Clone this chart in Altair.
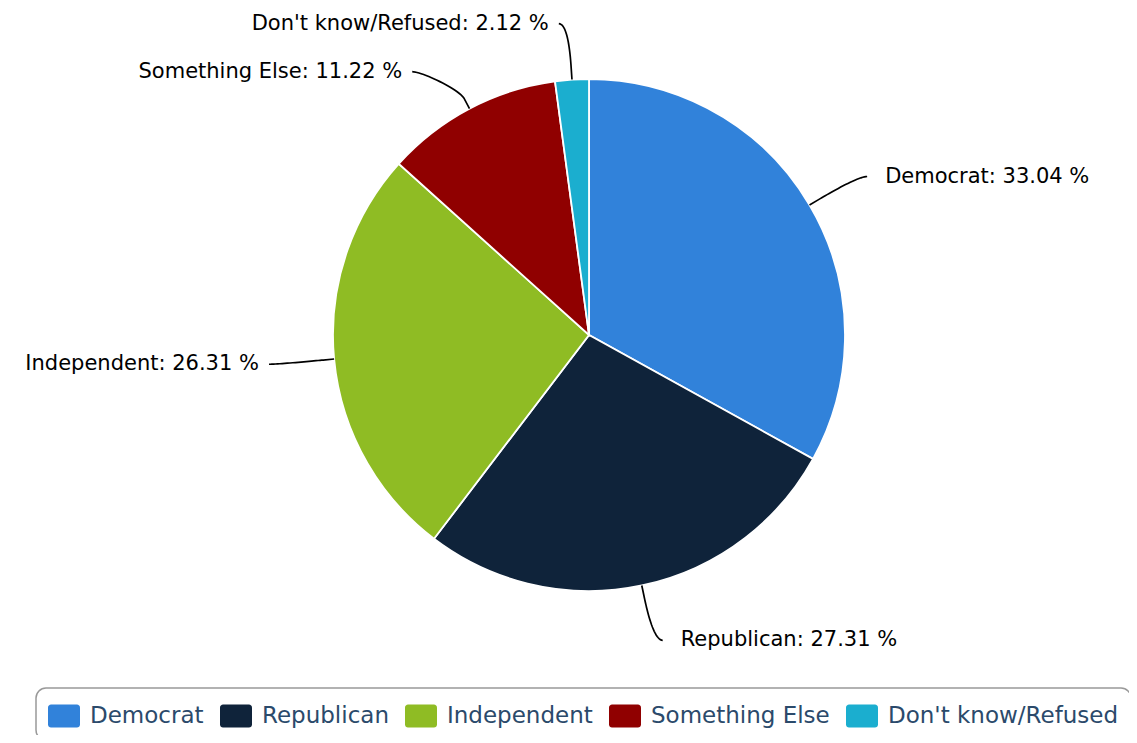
import math
import altair as alt
import pandas as pd

# ---- data ----
categories = ["Democrat", "Republican", "Independent", "Something Else", "Don't know/Refused"]
values = [33.04, 27.31, 26.31, 11.22, 2.12]
colors = ["#3182DA", "#0F233A", "#8FBC24", "#900000", "#1BAECF"]

# ---- layout / style constants ----
W, H = 1121, 727          # plot area in px (fits the window exactly)
CX, CY = 581, 327         # pie centre (px, plot coords)
R = 256                   # pie radius
LABEL_DIST = 56           # label distance from the pie edge
PAD = 9.4                 # connector padding
BREAK = 11                # connector break distance
MIN_GAP = 48              # minimum vertical gap between labels on one side
TOP_LIMIT = 12            # labels are kept below this y
FONT = "DejaVu Sans"

total = sum(values)
RL = R + LABEL_DIST

# derived label geometry (from the values' angles)
info = []
cum = 0.0
for i, (c, v) in enumerate(zip(categories, values)):
    mid = (cum + v / 2.0) / total * 2 * math.pi
    cum += v
    s, co = math.sin(mid), math.cos(mid)
    info.append({"i": i, "cat": c, "val": v, "sin": s, "cos": co,
                 "side": 1 if s >= 0 else -1, "y": CY - RL * co})

# simple label distribution per side (keep inside the top edge, push down)
for side in (1, -1):
    grp = sorted([d for d in info if d["side"] == side], key=lambda d: d["y"])
    if grp and grp[0]["y"] < TOP_LIMIT:
        grp[0]["y"] = TOP_LIMIT
    for a, b in zip(grp, grp[1:]):
        if b["y"] - a["y"] < MIN_GAP:
            b["y"] = a["y"] + MIN_GAP

label_rows, line_rows = [], []
for d in info:
    s, co, side = d["sin"], d["cos"], d["side"]
    dy = d["y"] - CY
    off = max(math.sqrt(max(RL * RL - dy * dy, 0.0)), RL * abs(s))
    ex, ey = CX + side * (off + PAD), d["y"]
    tx = ex + 18 if side == 1 else ex - 10
    label_rows.append({"cat": d["cat"], "x": tx, "y": ey,
                       "label": f"{d['cat']}: {d['val']:.2f} %",
                       "align": "left" if side == 1 else "right"})
    # soft connector: cubic curve label -> break point, then line to slice edge
    tX, tY = CX + R * s, CY - R * co
    bX, bY = CX + (R + BREAK) * s, CY - (R + BREAK) * co
    p0 = (ex, ey)
    p1 = (ex - side * PAD, ey)
    p2 = (2 * bX - tX, 2 * bY - tY)
    p3 = (bX, bY)
    n = 24
    k = 0
    for j in range(n + 1):
        t = j / n
        u = 1 - t
        x = u**3 * p0[0] + 3 * u * u * t * p1[0] + 3 * u * t * t * p2[0] + t**3 * p3[0]
        y = u**3 * p0[1] + 3 * u * u * t * p1[1] + 3 * u * t * t * p2[1] + t**3 * p3[1]
        line_rows.append({"cat": d["cat"], "k": k, "x": x, "y": y})
        k += 1
    line_rows.append({"cat": d["cat"], "k": k, "x": tX, "y": tY})

pie_df = pd.DataFrame({"category": categories, "value": values,
                       "idx": list(range(len(categories)))})
lab_df = pd.DataFrame(label_rows)
line_df = pd.DataFrame(line_rows)

xs = alt.Scale(domain=[0, W], nice=False, zero=False)
ys = alt.Scale(domain=[H, 0], nice=False, zero=False)

rounded = ("M-0.81,-0.72 L0.81,-0.72 A0.19,0.19 0 0 1 1,-0.53 L1,0.53 "
           "A0.19,0.19 0 0 1 0.81,0.72 L-0.81,0.72 A0.19,0.19 0 0 1 -1,0.53 "
           "L-1,-0.53 A0.19,0.19 0 0 1 -0.81,-0.72 Z")

pie = alt.Chart(pie_df).mark_arc(radius=R, stroke="white", strokeWidth=1.8).encode(
    theta=alt.Theta("value:Q", stack=True),
    order=alt.Order("idx:Q"),
    color=alt.Color(
        "category:N",
        scale=alt.Scale(domain=categories, range=colors),
        legend=alt.Legend(
            title=None, orient="none", legendX=28, legendY=680,
            direction="horizontal", strokeColor="#999999", cornerRadius=10,
            padding=12, fillColor="white", symbolType=rounded, symbolSize=1024,
            symbolStrokeWidth=0, symbolOpacity=1, labelFont=FONT, labelFontSize=23,
            labelColor="#2B4A6B", labelOffset=10, columnPadding=16, labelLimit=600,
        ),
    ),
    x=alt.value(CX),
    y=alt.value(CY),
)

lines = alt.Chart(line_df).mark_line(color="black", strokeWidth=1.7).encode(
    x=alt.X("x:Q", scale=xs, axis=None),
    y=alt.Y("y:Q", scale=ys, axis=None),
    detail="cat:N",
    order="k:Q",
)

text_right = alt.Chart(lab_df).transform_filter(alt.datum.align == "left").mark_text(
    align="left", baseline="middle", font=FONT, fontSize=21, color="black"
).encode(x=alt.X("x:Q", scale=xs, axis=None), y=alt.Y("y:Q", scale=ys, axis=None), text="label:N")

text_left = alt.Chart(lab_df).transform_filter(alt.datum.align == "right").mark_text(
    align="right", baseline="middle", font=FONT, fontSize=21, color="black"
).encode(x=alt.X("x:Q", scale=xs, axis=None), y=alt.Y("y:Q", scale=ys, axis=None), text="label:N")

chart = alt.layer(pie, lines, text_right, text_left).properties(
    width=W, height=H, padding=0,
    autosize=alt.AutoSizeParams(type="none"),
).configure_view(stroke=None).configure_legend(strokeWidth=1.5)

chart.save("out.html", embed_options={"renderer": "svg", "actions": False})
